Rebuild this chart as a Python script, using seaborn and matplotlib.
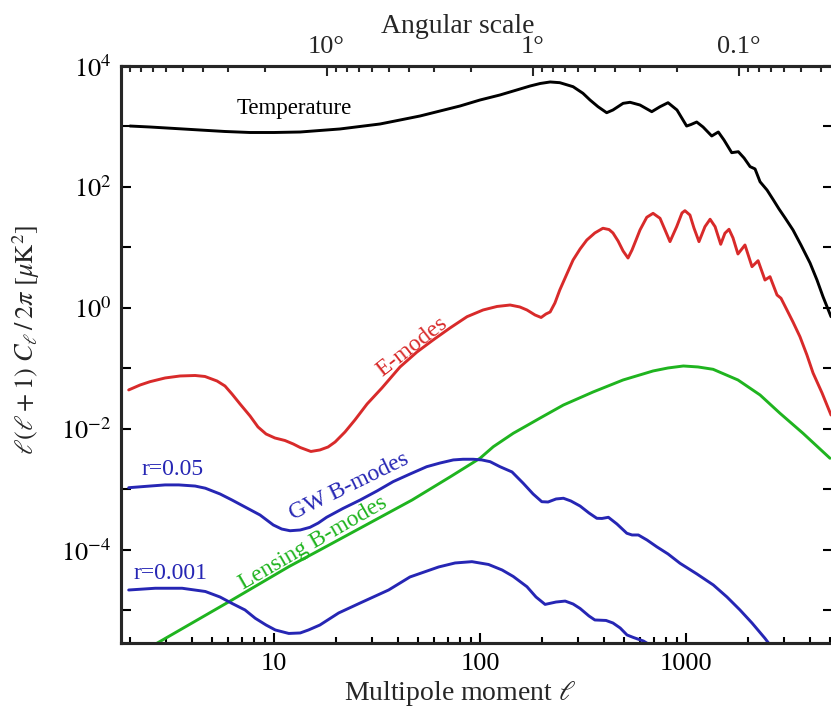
import numpy as np
import pandas as pd
import matplotlib
matplotlib.use("Agg")
import matplotlib.pyplot as plt
import seaborn as sns
from matplotlib.ticker import LogLocator, NullFormatter, NullLocator, FixedLocator

# ---------------- data ----------------
ell_T = [2.00, 2.50, 3.30, 4.37, 5.78, 7.64, 10, 13.4, 16.7, 20.9, 26.1, 32.7, 40.9, 51.2,
         64.0, 80.0, 100, 125, 148, 175, 196, 219, 244, 283, 316, 342, 374, 412, 442, 495,
         535, 598, 682, 748, 818, 904, 1007, 1057, 1127, 1210, 1333, 1435, 1529, 1667,
         1795, 1914, 2047, 2163, 2288, 2474, 2656, 2828, 3027, 3306, 3614, 4000, 4324,
         4624, 5058]
cl_T = [1018, 981, 927, 875, 827, 796, 796, 811, 859, 910, 1000, 1100, 1280, 1493,
        1805, 2183, 2742, 3319, 3939, 4670, 5140, 5445, 5300, 4550, 3540, 2742, 2124, 1690,
        1875, 2415, 2512, 2265, 1757, 2124, 2474, 1875, 1018, 1078, 1186, 981, 697, 811,
        598, 369, 383, 301, 217, 199, 122, 89, 61, 43.3, 30.8, 19.5, 11.0, 5.55, 2.90,
        1.54, 0.718]

ell_E = [1.97, 2.24, 2.50, 2.96, 3.50, 4.14, 4.62, 5.29, 5.78, 6.25, 6.84, 7.65, 8.36,
         9.15, 10.1, 11.3, 12.4, 13.4, 15.1, 16.7, 18.3, 19.8, 22.1, 24.7, 28.3, 33.4,
         40.9, 49.4, 59.2, 71.5, 86.5, 103.5, 121, 140, 156, 169, 185, 198, 209, 219, 231,
         244, 264, 283, 306, 330, 361, 395, 423, 442, 468, 495, 523, 547, 572, 598, 645,
         692, 748, 791, 836, 901, 956, 988, 1045, 1093, 1156, 1236, 1309, 1384, 1474,
         1545, 1617, 1691, 1787, 1933, 2091, 2238, 2417, 2557, 2766, 2891, 3090, 3306,
         3573, 3864, 4137, 4575, 5058]
cl_E = [0.0442, 0.0534, 0.0605, 0.0697, 0.0752, 0.0766, 0.0738, 0.0621, 0.0514, 0.0379,
        0.0259, 0.0164, 0.0108, 0.00826, 0.00710, 0.00645, 0.00565, 0.00494, 0.00425,
        0.00450, 0.00504, 0.00610, 0.00891, 0.0141, 0.0259, 0.0476, 0.106, 0.187, 0.296,
        0.467, 0.718, 0.927, 1.06, 1.12, 1.04, 0.927, 0.766, 0.697, 0.796, 0.859, 1.21,
        1.99, 3.65, 6.21, 9.44, 13.3, 17.4, 20.8, 19.8, 17.4, 12.8, 8.75, 6.70, 9.10, 13.3,
        19.5, 31.6, 36.7, 30.4, 19.5, 12.5, 22.1, 37.2, 40.6, 34.4, 21.0, 12.5, 22.1,
        29.3, 22.1, 11.3, 17.2, 20.0, 14.4, 7.81, 11.0, 4.82, 6.05, 2.90, 3.29, 1.64,
        1.45, 0.927, 0.587, 0.336, 0.167, 0.0843, 0.0394, 0.0170]

ell_L = [2.70, 6.25, 11.8, 16.7, 46.8, 71.5, 100, 116, 145, 169, 196, 254, 354, 495, 692,
         818, 971, 1143, 1353, 1787, 2288, 2858, 3698, 5000]
cl_L = [2.87e-6, 1.49e-5, 5.30e-5, 1.0e-4, 6.70e-4, 1.61e-3, 3.28e-3, 5.09e-3, 8.49e-3,
        0.0114, 0.0152, 0.0249, 0.0409, 0.0646, 0.0910, 0.102, 0.110, 0.106, 0.0970,
        0.0646, 0.0365, 0.0182, 8.49e-3, 3.28e-3]

ell_G1 = [1.97, 2.50, 2.96, 3.45, 4.14, 4.64, 5.47, 6.25, 7.23, 8.55, 9.92, 10.9, 11.96,
          13.4, 14.95, 16.4, 18.0, 21.6, 26.2, 31.6, 37.9, 45.7, 55.1, 64.0, 74.2, 82.7,
          92.7, 102, 112, 125, 143, 162, 181, 199.5, 214, 234, 254, 276, 306, 338, 369,
          391, 420, 462, 516, 547, 587, 647, 721, 818, 935, 1130, 1357, 1581, 1828, 2091,
          2416, 2558]
cl_G1 = [1.07e-3, 1.14e-3, 1.19e-3, 1.19e-3, 1.14e-3, 1.05e-3, 8.43e-4, 6.70e-4, 5.14e-4,
         3.79e-4, 2.59e-4, 2.22e-4, 2.08e-4, 2.14e-4, 2.37e-4, 2.79e-4, 3.47e-4, 4.85e-4,
         6.70e-4, 9.44e-4, 1.35e-3, 1.80e-3, 2.38e-3, 2.74e-3, 3.08e-3, 3.16e-3, 3.16e-3,
         3.08e-3, 2.88e-3, 2.38e-3, 1.95e-3, 1.27e-3, 8.43e-4, 6.28e-4, 6.21e-4, 6.97e-4,
         7.16e-4, 6.46e-4, 5.33e-4, 4.09e-4, 3.34e-4, 3.32e-4, 3.47e-4, 2.69e-4, 1.89e-4,
         1.77e-4, 1.77e-4, 1.46e-4, 1.13e-4, 8.59e-5, 6.03e-5, 4.01e-5, 2.64e-5, 1.67e-5,
         1.02e-5, 6.21e-6, 3.47e-6, 2.69e-6]

ell_G2 = [1.97, 2.65, 3.58, 4.64, 5.47, 6.25, 7.23, 8.11, 9.15, 10.15, 11.8, 13.4, 14.7,
          16.7, 20.6, 26.2, 36.0, 45.7, 63.0, 75.7, 91.4, 110, 128, 145, 169, 187, 207,
          234, 259, 283, 306, 338, 361, 409, 442, 479, 517, 555, 621, 669]
cl_G2 = [2.18e-5, 2.33e-5, 2.33e-5, 2.06e-5, 1.67e-5, 1.31e-5, 1.02e-5, 7.43e-6, 5.75e-6,
         4.76e-6, 4.17e-6, 4.25e-6, 4.76e-6, 5.75e-6, 9.10e-6, 1.33e-5, 2.18e-5, 3.58e-5,
         5.24e-5, 6.10e-5, 6.41e-5, 5.76e-5, 4.67e-5, 3.65e-5, 2.47e-5, 1.67e-5, 1.26e-5,
         1.38e-5, 1.43e-5, 1.28e-5, 1.08e-5, 8.11e-6, 6.97e-6, 6.84e-6, 6.21e-6, 5.14e-6,
         3.94e-6, 3.58e-6, 3.13e-6, 2.69e-6]

x_ticks = [10, 100, 1000]
x_ticklabels = ["10", "100", "1000"]
top_ticks_deg = [10, 1, 0.1]
top_ticklabels = ["10°", "1°", "0.1°"]
y_exponents = list(range(-5, 5))

# ---------------- styling ----------------
sns.set_style("ticks")
plt.rcParams["font.family"] = ["Liberation Serif", "DejaVu Serif"]
plt.rcParams["mathtext.fontset"] = "stix"

BLACK = "#000000"
RED = "#d82a2a"
BLUE = "#2626b4"
GREEN = "#1fb41f"

fig = plt.figure(figsize=(8.31, 7.2), dpi=100)
ax = fig.add_axes([121 / 831, 77 / 720, 712 / 831, 577 / 720])

frames = []
for name, l, c in [("T", ell_T, cl_T), ("E", ell_E, cl_E), ("L", ell_L, cl_L),
                   ("G1", ell_G1, cl_G1), ("G2", ell_G2, cl_G2)]:
    frames.append(pd.DataFrame({"ell": l, "cl": c, "curve": name}))
df = pd.concat(frames, ignore_index=True)
palette = {"T": BLACK, "E": RED, "L": GREEN, "G1": BLUE, "G2": BLUE}

sns.lineplot(data=df, x="ell", y="cl", hue="curve", palette=palette, estimator=None,
             sort=False, legend=False, linewidth=2.1, ax=ax)
for ln in ax.get_lines():
    ln.set_solid_joinstyle("round")
    ln.set_solid_capstyle("round")

ax.set_xscale("log")
ax.set_yscale("log")
ax.set_xlim(1.808, 5171)
ax.set_ylim(2.9e-6, 1e4)

ax.set_xticks(x_ticks)
ax.set_xticklabels(x_ticklabels)
ax.xaxis.set_minor_locator(LogLocator(base=10, subs=np.arange(2, 10), numticks=30))
ax.xaxis.set_minor_formatter(NullFormatter())
ax.set_yticks([10.0 ** k for k in y_exponents])
ax.set_yticklabels([r"$10^{%d}$" % k if k % 2 == 0 else "" for k in y_exponents])
ax.yaxis.set_minor_locator(NullLocator())

ax.tick_params(which="both", direction="in", right=True, top=False, width=1.5,
               labelsize=19, colors="k")
ax.tick_params(which="major", length=7, pad=7)
ax.tick_params(which="minor", length=4)
for s in ax.spines.values():
    s.set_linewidth(2.2)
    s.set_color("k")

ax.set_xlabel(r"Multipole moment $\ell$", fontsize=20)
ax.xaxis.set_label_coords(0.476, -0.062)
ax.set_ylabel(r"$\ell(\ell+1)\ C_\ell\,/\,2\pi\ [\mu\mathrm{K}^2]$", fontsize=19)
ax.yaxis.set_label_coords(-0.111, 0.525)

# top axis: angular scale
ax2 = ax.twiny()
ax2.set_xscale("log")
ax2.set_xlim(ax.get_xlim())
ax2.set_xticks([180.0 / d for d in top_ticks_deg])
ax2.set_xticklabels(top_ticklabels)
minor_deg = [m * 10.0 ** k for k in (-2, -1, 0, 1) for m in range(2, 10)]
ax2.xaxis.set_minor_locator(FixedLocator([180.0 / d for d in minor_deg]))
ax2.xaxis.set_minor_formatter(NullFormatter())
ax2.tick_params(which="both", direction="in", width=1.5, labelsize=19)
ax2.tick_params(which="major", length=7, pad=6)
ax2.tick_params(which="minor", length=4)
for s in ax2.spines.values():
    s.set_linewidth(2.2)
ax2.set_xlabel("Angular scale", fontsize=20)
ax2.xaxis.set_label_coords(0.473, 1.057)

# curve annotations
ax.text(12.5, 2021, "Temperature", fontsize=16.5, color=BLACK, ha="center", va="center")
ax.text(46.8, 0.226, "E-modes", fontsize=17, color=RED, ha="center", va="center",
        rotation=38, rotation_mode="anchor")
ax.text(23.1, 1.14e-3, "GW B-modes", fontsize=17, color=BLUE, ha="center", va="center",
        rotation=26, rotation_mode="anchor")
ax.text(15.5, 1.31e-4, "Lensing B-modes", fontsize=17, color=GREEN, ha="center",
        va="center", rotation=30, rotation_mode="anchor")
ax.text(3.2, 2.1e-3, "r=0.05", fontsize=17, color=BLUE, ha="center", va="center")
ax.text(3.15, 4.09e-5, "r=0.001", fontsize=17, color=BLUE, ha="center", va="center")

fig.savefig("out.png", dpi=100)
